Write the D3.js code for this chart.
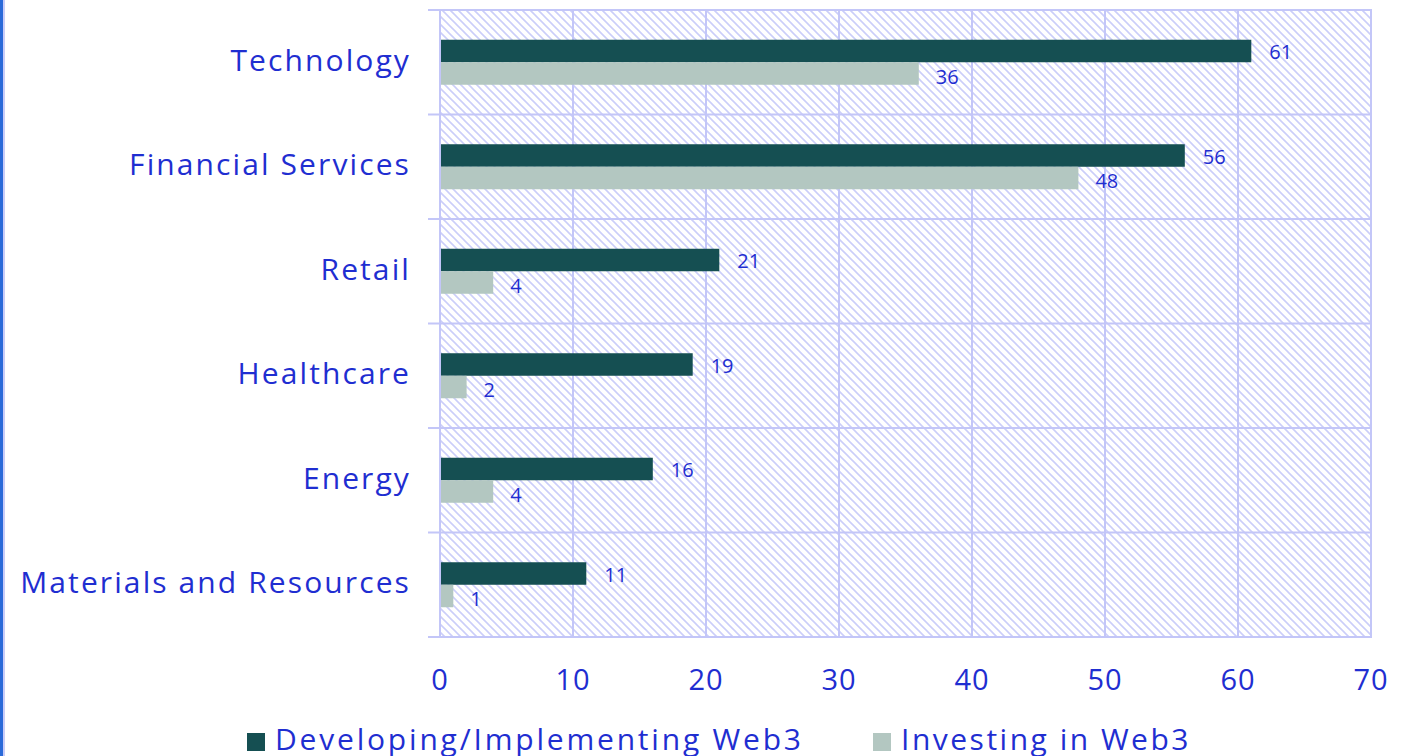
<!DOCTYPE html>
<head>
    <meta charset=utf-8>
    <title>Web3 by industry</title>
    <script src="https://d3js.org/d3.v7.min.js"></script>
</head>
<style>
    body { margin: 0; background: #ffffff; overflow: hidden; }
    text { font-family: "Open Sans", sans-serif; fill: #1f2ed1; }
    .wide { letter-spacing: 2.1px; }
</style>
<body>
<div id="chart"></div>
<script type="text/javascript">
    // data
    var categories = ["Technology", "Financial Services", "Retail", "Healthcare", "Energy", "Materials and Resources"];
    var developing = [61, 56, 21, 19, 16, 11];
    var investing = [36, 48, 4, 2, 4, 1];
    var seriesNames = ["Developing/Implementing Web3", "Investing in Web3"];
    var seriesColors = ["#154f52", "#b3c7c1"];
    var xTicks = [0, 10, 20, 30, 40, 50, 60, 70];

    var svg_dx = 1405, svg_dy = 756;
    var plot = {left: 440, right: 1371, top: 10, bottom: 637};
    var gridColor = "#c3c6f8";

    var svg = d3.select("#chart").append("svg")
        .attr("width", svg_dx)
        .attr("height", svg_dy);

    var x = d3.scaleLinear().domain([0, 70]).range([plot.left, plot.right]);
    var y = d3.scaleBand().domain(categories).range([plot.top, plot.bottom]);

    // hatch fill
    var defs = svg.append("defs");
    var pat = defs.append("pattern")
        .attr("id", "hatch")
        .attr("patternUnits", "userSpaceOnUse")
        .attr("width", 8).attr("height", 8);
    pat.append("path")
        .attr("d", "M-2,-2 L10,10 M-2,6 L2,10 M6,-2 L10,2")
        .attr("stroke", "#cbcef9")
        .attr("stroke-width", 1.6);

    // left frame edge
    svg.append("rect").attr("x", 0).attr("y", 0).attr("width", 3).attr("height", svg_dy).attr("fill", "#2a6ad8");
    svg.append("rect").attr("x", 3).attr("y", 0).attr("width", 2).attr("height", svg_dy).attr("fill", "#c9ccf8");

    svg.append("rect")
        .attr("x", plot.left).attr("y", plot.top)
        .attr("width", plot.right - plot.left).attr("height", plot.bottom - plot.top)
        .attr("fill", "url(#hatch)");

    // vertical grid
    svg.append("g").selectAll("line")
        .data(xTicks).enter().append("line")
        .attr("x1", d => x(d)).attr("x2", d => x(d))
        .attr("y1", plot.top).attr("y2", plot.bottom)
        .attr("stroke", gridColor).attr("stroke-width", 2);

    // horizontal grid (category boundaries, with small ticks on the left)
    var bounds = categories.map(c => y(c)).concat([plot.bottom]);
    svg.append("g").selectAll("line")
        .data(bounds).enter().append("line")
        .attr("x1", plot.left - 12).attr("x2", plot.right + 1)
        .attr("y1", d => d).attr("y2", d => d)
        .attr("stroke", gridColor).attr("stroke-width", 2);

    var barH = 22.5;
    var rows = categories.map((c, i) => ({cat: c, dev: developing[i], inv: investing[i]}));

    var g = svg.append("g");
    g.selectAll("rect.dev").data(rows).enter().append("rect")
        .attr("class", "dev")
        .attr("x", x(0) + 1)
        .attr("y", d => y(d.cat) + y.bandwidth() / 2 - barH)
        .attr("width", d => x(d.dev) - x(0) - 1)
        .attr("height", barH)
        .attr("fill", seriesColors[0]);
    g.selectAll("rect.inv").data(rows).enter().append("rect")
        .attr("class", "inv")
        .attr("x", x(0) + 1)
        .attr("y", d => y(d.cat) + y.bandwidth() / 2)
        .attr("width", d => x(d.inv) - x(0) - 1)
        .attr("height", barH)
        .attr("fill", seriesColors[1]);

    // value labels
    g.selectAll("text.dev").data(rows).enter().append("text")
        .attr("x", d => x(d.dev) + 18)
        .attr("y", d => y(d.cat) + y.bandwidth() / 2 - barH / 2 + 1)
        .attr("dy", "0.35em")
        .attr("font-size", 20)
        .text(d => d.dev);
    g.selectAll("text.inv").data(rows).enter().append("text")
        .attr("x", d => x(d.inv) + 17)
        .attr("y", d => y(d.cat) + y.bandwidth() / 2 + barH / 2 + 3)
        .attr("dy", "0.35em")
        .attr("font-size", 20)
        .text(d => d.inv);

    // category labels
    svg.append("g").selectAll("text")
        .data(categories).enter().append("text")
        .attr("class", "wide")
        .attr("x", 411)
        .attr("y", d => y(d) + y.bandwidth() / 2 - 2)
        .attr("dy", "0.35em")
        .attr("text-anchor", "end")
        .attr("font-size", 30)
        .text(d => d);

    // x tick labels
    svg.append("g").selectAll("text")
        .data(xTicks).enter().append("text")
        .attr("x", d => x(d))
        .attr("y", 680)
        .attr("dy", "0.35em")
        .attr("text-anchor", "middle")
        .attr("font-size", 29)
        .attr("letter-spacing", 1)
        .text(d => d);

    // legend
    var legendX = [247, 873];
    var leg = svg.append("g").selectAll("g")
        .data(seriesNames).enter().append("g")
        .attr("transform", (d, i) => "translate(" + legendX[i] + ",733)");
    leg.append("rect")
        .attr("width", 18).attr("height", 18)
        .attr("fill", (d, i) => seriesColors[i]);
    leg.append("text")
        .attr("x", 28).attr("y", 17)
        .attr("font-size", 30)
        .attr("letter-spacing", (d, i) => i === 0 ? 2.8 : 2.5)
        .text(d => d);
</script>
</body>
